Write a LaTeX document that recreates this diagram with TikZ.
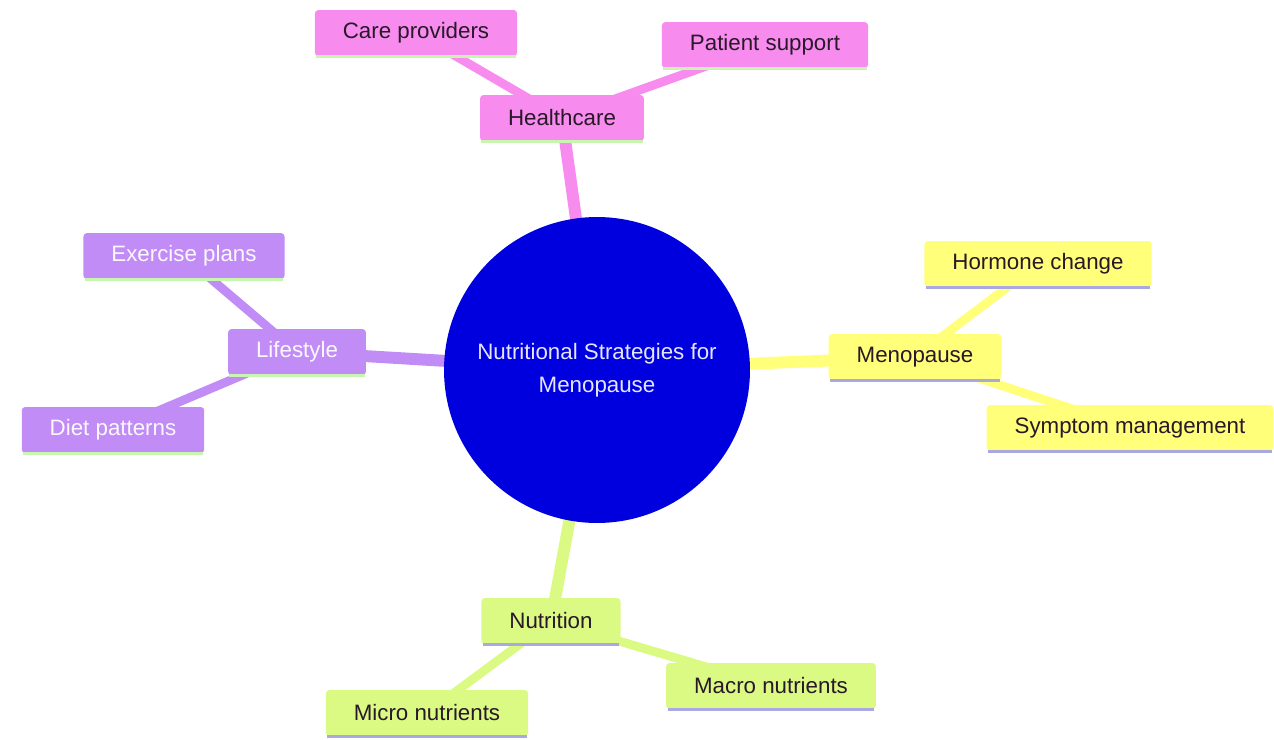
\documentclass[tikz,border=0pt]{standalone}
\usepackage{fontspec}
\setmainfont{Liberation Sans}
\usetikzlibrary{backgrounds}

\definecolor{hcpink}{RGB}{247,139,238}
\definecolor{lspurple}{RGB}{193,140,245}
\definecolor{mpyellow}{RGB}{255,255,122}
\definecolor{ntgreen}{RGB}{218,250,132}
\definecolor{rootblue}{RGB}{0,0,222}
\definecolor{darktext}{RGB}{40,24,40}
\definecolor{palegreen}{RGB}{200,245,176}
\definecolor{lavender}{RGB}{170,168,226}

\tikzset{
  topic/.style={rounded corners=2pt, inner xsep=0.56cm, inner ysep=0pt,
    minimum height=0.92cm, text=darktext,
    font=\fontsize{12.7}{15}\selectfont},
  root/.style={circle, fill=rootblue, minimum size=6.12cm, align=center,
    text=white!90!blue, font=\fontsize{12.7}{18.8}\selectfont},
  trunk/.style={line width=6.8pt},
  twig/.style={line width=5pt}
}

\begin{document}
\begin{tikzpicture}[x=0.02cm, y=-0.02cm]
  \useasboundingbox (0,0) rectangle (1274,740);

  % centre
  \node[root] (root) at (597,370) {Nutritional Strategies for\\Menopause};

  % healthcare
  \node[topic, fill=hcpink] (health) at (562,118) {Healthcare};
  \node[topic, fill=hcpink] (care) at (416,33) {Care providers};
  \node[topic, fill=hcpink] (patient) at (765,45) {Patient support};

  % lifestyle
  \node[topic, fill=lspurple, text=white!94!lspurple] (life) at (297,352) {Lifestyle};
  \node[topic, fill=lspurple, text=white!94!lspurple] (exercise) at (184,256) {Exercise plans};
  \node[topic, fill=lspurple, text=white!94!lspurple] (diet) at (113,430) {Diet patterns};

  % menopause
  \node[topic, fill=mpyellow] (meno) at (915,357) {Menopause};
  \node[topic, fill=mpyellow] (hormone) at (1038,264) {Hormone change};
  \node[topic, fill=mpyellow] (symptom) at (1130,428) {Symptom management};

  % nutrition
  \node[topic, fill=ntgreen] (nutri) at (551,621) {Nutrition};
  \node[topic, fill=ntgreen] (micro) at (427,713) {Micro nutrients};
  \node[topic, fill=ntgreen] (macro) at (771,686) {Macro nutrients};

  \begin{scope}[on background layer]
    \foreach \a/\b in {health/hcpink, life/lspurple, meno/mpyellow, nutri/ntgreen}
      \draw[trunk, \b] (root.center) -- (\a.center);
    \foreach \a/\b/\c in {health/care/hcpink, health/patient/hcpink,
        life/exercise/lspurple, life/diet/lspurple,
        meno/hormone/mpyellow, meno/symptom/mpyellow,
        nutri/micro/ntgreen, nutri/macro/ntgreen}
      \draw[twig, \c] (\a.center) -- (\b.center);
  \end{scope}

  % underlines
  \foreach \n/\c in {health/palegreen, care/palegreen, patient/palegreen,
      life/palegreen, exercise/palegreen, diet/palegreen,
      meno/lavender, hormone/lavender, symptom/lavender,
      nutri/lavender, micro/lavender, macro/lavender}
    \draw[line width=1.4pt, \c] ([xshift=1pt]\n.south west) -- ([xshift=-1pt]\n.south east);
\end{tikzpicture}
\end{document}
